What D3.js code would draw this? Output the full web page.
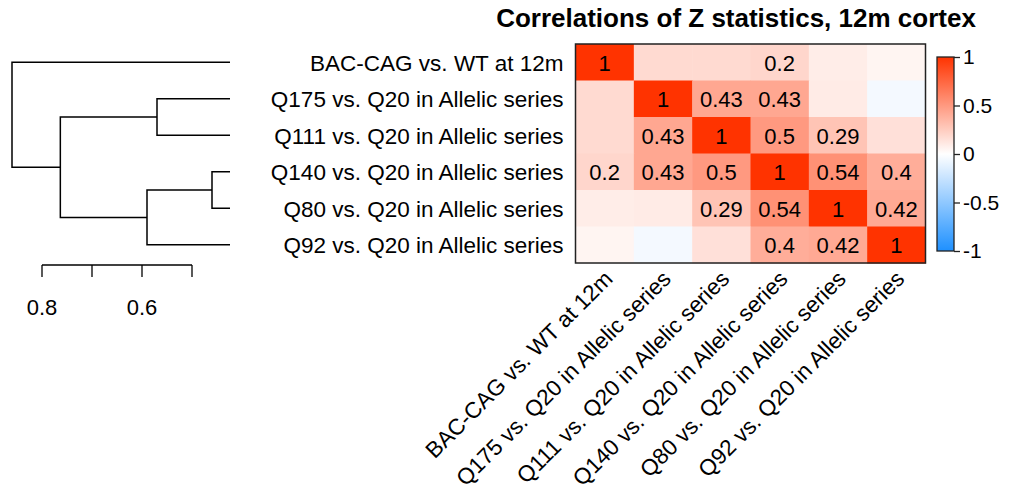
<!DOCTYPE html>
<html>
<head>
<meta charset="utf-8">
<script src="https://cdn.jsdelivr.net/npm/d3@7"></script>
<style>
  html, body { margin: 0; padding: 0; background: #fff; }
  svg { display: block; font-family: "Liberation Sans", Arial, Helvetica, sans-serif; }
</style>
</head>
<body>
<svg id="chart" width="1013" height="498"></svg>
<script>
// Contrasts, in the order they are clustered and displayed
const contrasts = [
  "BAC-CAG vs. WT at 12m",
  "Q175 vs. Q20 in Allelic series",
  "Q111 vs. Q20 in Allelic series",
  "Q140 vs. Q20 in Allelic series",
  "Q80 vs. Q20 in Allelic series",
  "Q92 vs. Q20 in Allelic series"
];

// Pairwise correlations of Z statistics (symmetric)
const corBAC  = [1.00, 0.18, 0.18, 0.20, 0.09, 0.05];
const corQ175 = [0.18, 1.00, 0.43, 0.43, 0.10, -0.05];
const corQ111 = [0.18, 0.43, 1.00, 0.50, 0.29, 0.15];
const corQ140 = [0.20, 0.43, 0.50, 1.00, 0.54, 0.40];
const corQ80  = [0.09, 0.10, 0.29, 0.54, 1.00, 0.42];
const corQ92  = [0.05, -0.05, 0.15, 0.40, 0.42, 1.00];
const corRows = [corBAC, corQ175, corQ111, corQ140, corQ80, corQ92];

// Correlations at or above this size are printed in their cell
const labelThreshold = 0.2;

// Colour key ticks and dendrogram height axis
const keyTicks = [1, 0.5, 0, -0.5, -1];
const heightTicks = [0.8, 0.7, 0.6, 0.5];
const heightTickLabels = [0.8, 0.6];

const svg = d3.select("#chart");
const n = contrasts.length;
const labelSize = 22.5;

// ---------- heatmap ----------
const hm = { left: 575.5, right: 925.5, top: 44, bottom: 263 };
const x = d3.scaleBand().domain(d3.range(n)).range([hm.left, hm.right]);
const y = d3.scaleBand().domain(d3.range(n)).range([hm.top, hm.bottom]);
const color = d3.scaleLinear().domain([-1, 0, 1])
  .range(["#1E90FF", "#FFFFFF", "#FF3300"]);

const cells = [];
corRows.forEach((row, i) => row.forEach((v, j) => cells.push({ i, j, v })));

svg.append("g").selectAll("rect").data(cells).join("rect")
  .attr("x", d => x(d.j)).attr("y", d => y(d.i))
  .attr("width", x.bandwidth() + 0.5).attr("height", y.bandwidth() + 0.5)
  .attr("fill", d => color(d.v));

const fmt = v => String(+v.toFixed(2));
svg.append("g").selectAll("text")
  .data(cells.filter(d => Math.abs(d.v) >= labelThreshold)).join("text")
  .attr("x", d => x(d.j) + x.bandwidth() / 2)
  .attr("y", d => y(d.i) + y.bandwidth() / 2 + 1)
  .attr("text-anchor", "middle").attr("dominant-baseline", "central")
  .attr("font-size", 22).attr("fill", "#000")
  .text(d => fmt(d.v));

svg.append("rect")
  .attr("x", hm.left).attr("y", hm.top)
  .attr("width", hm.right - hm.left).attr("height", hm.bottom - hm.top)
  .attr("fill", "none").attr("stroke", "#222").attr("stroke-width", 1.5);

// Row labels
svg.append("g").selectAll("text").data(contrasts).join("text")
  .attr("x", hm.left - 12)
  .attr("y", (d, i) => y(i) + y.bandwidth() / 2 + 1)
  .attr("text-anchor", "end").attr("dominant-baseline", "central")
  .attr("font-size", labelSize).attr("fill", "#000")
  .text(d => d);

// Column labels, rotated
svg.append("g").selectAll("text").data(contrasts).join("text")
  .attr("transform", (d, i) =>
    `translate(${x(i) + x.bandwidth() / 2 + 4},${hm.bottom + 12}) rotate(-45)`)
  .attr("text-anchor", "end").attr("dominant-baseline", "central")
  .attr("font-size", labelSize).attr("fill", "#000")
  .text(d => d);

// Title
svg.append("text")
  .attr("x", 736).attr("y", 27)
  .attr("text-anchor", "middle")
  .attr("font-size", 26).attr("font-weight", "bold").attr("fill", "#000")
  .text("Correlations of Z statistics, 12m cortex");

// ---------- colour key ----------
const key = { x: 937, w: 17, top: 57, bottom: 251 };
const ky = d3.scaleLinear().domain([-1, 1]).range([key.bottom, key.top]);
const grad = svg.append("defs").append("linearGradient")
  .attr("id", "keygrad").attr("x1", 0).attr("y1", 1).attr("x2", 0).attr("y2", 0);
d3.range(-1, 1.0001, 0.25).forEach(v => {
  grad.append("stop").attr("offset", (v + 1) / 2).attr("stop-color", color(v));
});
svg.append("rect")
  .attr("x", key.x).attr("y", key.top)
  .attr("width", key.w).attr("height", key.bottom - key.top)
  .attr("fill", "url(#keygrad)").attr("stroke", "#222").attr("stroke-width", 1.3);
const keyAxis = svg.append("g")
  .attr("transform", `translate(${key.x + key.w},0)`)
  .call(d3.axisRight(ky).tickValues(keyTicks).tickSize(6).tickPadding(3)
    .tickFormat(d => String(d)));
keyAxis.select(".domain").remove();
keyAxis.selectAll("line").attr("stroke", "#222").attr("stroke-width", 1.3);
keyAxis.selectAll("text").attr("font-size", 21).attr("fill", "#000")
  .attr("font-family", "Liberation Sans, Arial, sans-serif");

// ---------- dendrogram (average linkage on 1 - correlation) ----------
const dist = (a, b) => 1 - corRows[a][b];
let clusters = d3.range(n).map(i => ({ leaves: [i], height: 0, children: null }));
while (clusters.length > 1) {
  let best = null;
  for (let p = 0; p < clusters.length; p++) {
    for (let q = p + 1; q < clusters.length; q++) {
      const A = clusters[p].leaves, B = clusters[q].leaves;
      const dsum = d3.sum(A, a => d3.sum(B, b => dist(a, b)));
      const dval = dsum / (A.length * B.length);
      if (!best || dval < best.d) best = { p, q, d: dval };
    }
  }
  const c1 = clusters[best.p], c2 = clusters[best.q];
  const kids = [c1, c2].sort((a, b) => d3.min(a.leaves) - d3.min(b.leaves));
  const merged = { leaves: c1.leaves.concat(c2.leaves), height: best.d, children: kids };
  clusters = clusters.filter((c, k) => k !== best.p && k !== best.q);
  clusters.push(merged);
}
const root = clusters[0];

const dendroRight = 230;
const hx = d3.scaleLinear().domain([0.8, 0.6]).range([42, 142]);
const nodeX = nd => nd.children ? hx(nd.height) : dendroRight;
function place(nd) {
  if (!nd.children) { nd.y = y(nd.leaves[0]) + y.bandwidth() / 2; return; }
  nd.children.forEach(place);
  nd.y = (nd.children[0].y + nd.children[1].y) / 2;
}
place(root);

const segs = [];
(function walk(nd) {
  if (!nd.children) return;
  const px = nodeX(nd);
  const [a, b] = nd.children;
  segs.push([[nodeX(a), a.y], [px, a.y], [px, b.y], [nodeX(b), b.y]]);
  nd.children.forEach(walk);
})(root);

svg.append("g").selectAll("path").data(segs).join("path")
  .attr("d", d3.line())
  .attr("fill", "none").attr("stroke", "#000").attr("stroke-width", 1.5);

// Height axis
const axisY = 265;
const hAxis = svg.append("g");
hAxis.append("line")
  .attr("x1", hx(d3.max(heightTicks))).attr("x2", hx(d3.min(heightTicks)))
  .attr("y1", axisY).attr("y2", axisY)
  .attr("stroke", "#000").attr("stroke-width", 1.3);
hAxis.selectAll("line.tick").data(heightTicks).join("line")
  .attr("class", "tick")
  .attr("x1", d => hx(d)).attr("x2", d => hx(d))
  .attr("y1", axisY).attr("y2", axisY + 12)
  .attr("stroke", "#000").attr("stroke-width", 1.3);
hAxis.selectAll("text").data(heightTickLabels).join("text")
  .attr("x", d => hx(d)).attr("y", 307)
  .attr("text-anchor", "middle").attr("dominant-baseline", "central")
  .attr("font-size", 22).attr("fill", "#000")
  .text(d => d3.format(".1f")(d));
</script>
</body>
</html>
